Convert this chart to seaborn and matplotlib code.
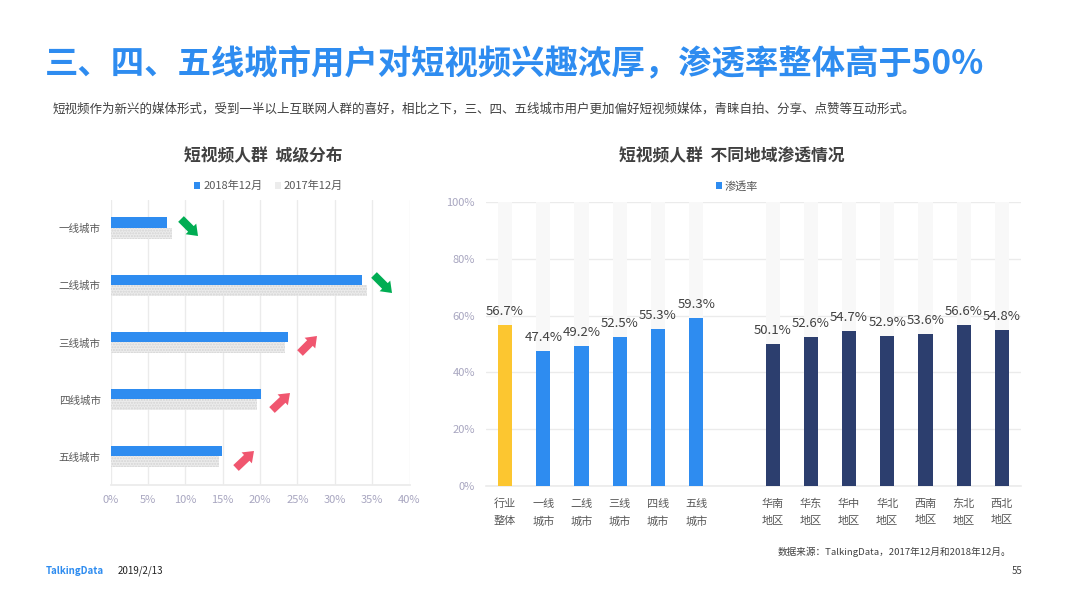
import numpy as np
import pandas as pd
import seaborn as sns
import matplotlib.pyplot as plt
from matplotlib.patches import FancyArrow, Patch

# left chart
cities = ['一线城市', '二线城市', '三线城市', '四线城市', '五线城市']
share_2018 = [7.6, 33.6, 23.7, 20.2, 14.9]
share_2017 = [8.2, 34.3, 23.4, 19.6, 14.5]
years = ['2018年12月', '2017年12月']
share_ticks = [0, 5, 10, 15, 20, 25, 30, 35, 40]

# right chart, the blank slot separates cities from regions
regions = ['行业\n整体', '一线\n城市', '二线\n城市', '三线\n城市', '四线\n城市', '五线\n城市', ' ',
           '华南\n地区', '华东\n地区', '华中\n地区', '华北\n地区', '西南\n地区', '东北\n地区', '西北\n地区']
rates = [56.7, 47.4, 49.2, 52.5, 55.3, 59.3, np.nan, 50.1, 52.6, 54.7, 52.9, 53.6, 56.6, 54.8]
groups = ['行业'] + ['城市'] * 6 + ['地区'] * 7
backdrop = [100] * 6 + [np.nan] + [100] * 7
rate_ticks = [0, 20, 40, 60, 80, 100]

W, H = 1066, 599
BLUE = '#2e8cf0'
NAVY = '#2c3e6e'
YELLOW = '#fcc630'
GREEN = '#00ad53'
RED = '#f0566f'
TICK = '#a8a6c0'
TEXT = '#595959'
GRID = '#ebebeb'

sns.set_theme(style='white')
plt.rcParams['font.family'] = ['Noto Sans CJK SC', 'DejaVu Sans']

fig = plt.figure(figsize=(W / 100, H / 100), dpi=100)


def px_axes(left, top, right, bottom):
    return fig.add_axes([left / W, 1 - bottom / H, (right - left) / W, (bottom - top) / H])


def px_text(x, y, s, **kw):
    kw.setdefault('va', 'center')
    fig.text(x / W, 1 - y / H, s, **kw)


# header and footer
px_text(45, 65, '三、四、五线城市用户对短视频兴趣浓厚，渗透率整体高于50%', color=BLUE, fontsize=24.05, fontweight='bold')
px_text(53, 109, '短视频作为新兴的媒体形式，受到一半以上互联网人群的喜好，相比之下，三、四、五线城市用户更加偏好短视频媒体，青睐自拍、分享、点赞等互动形式。',
        color='#404040', fontsize=9.03)
px_text(263, 156, '短视频人群  城级分布', color='#404040', fontsize=12.1, fontweight='bold', ha='center')
px_text(732, 156, '短视频人群  不同地域渗透情况', color='#404040', fontsize=12.1, fontweight='bold', ha='center')
px_text(1011, 552, '数据来源：TalkingData，2017年12月和2018年12月。', color='#404040', fontsize=6.9, ha='right')
px_text(46, 571, 'TalkingData', color=BLUE, fontsize=7, fontweight='bold')
px_text(118, 571, '2019/2/13', color='#222222', fontsize=7)
px_text(1022, 571, '55', color='#404040', fontsize=7, ha='right')

# left: city tier share
ax1 = px_axes(110.5, 199.5, 409.5, 485)
df1 = pd.DataFrame({
    'city': cities * 2,
    'share': share_2018 + share_2017,
    'year': [years[0]] * 5 + [years[1]] * 5,
})
sns.barplot(data=df1, x='share', y='city', hue='year', hue_order=years, order=cities, orient='h',
            palette=[BLUE, '#ececec'], width=0.37, gap=0, saturation=1, linewidth=0, ax=ax1, zorder=3)
for bar in ax1.containers[1]:
    bar.set_hatch('......')
    bar.set_edgecolor('#d4d4d4')
ax1.set_xlim(0, 40)
ax1.set_xticks(share_ticks)
ax1.set_xticklabels([f'{t}%' for t in share_ticks])
ax1.grid(axis='x', color=GRID, linewidth=1)
ax1.set_axisbelow(True)
ax1.set_xlabel('')
ax1.set_ylabel('')
ax1.tick_params(axis='x', colors=TICK, labelsize=8, length=0, pad=7)
ax1.tick_params(axis='y', colors=TEXT, labelsize=7.6, length=0, pad=7)
sns.despine(ax=ax1, left=True)
ax1.spines['bottom'].set_color(GRID)
handles, labels = ax1.get_legend_handles_labels()
ax1.legend(handles, labels, loc='center', bbox_to_anchor=(268.5 / W, 1 - 186 / H), bbox_transform=fig.transFigure,
           ncol=2, frameon=False, fontsize=8, labelcolor=TEXT, handlelength=0.55, handleheight=0.55,
           handletextpad=0.25, columnspacing=1.1)

# trend arrows, in pixels of the page
arrows = [(181, 219, 198, 236, GREEN), (374, 275, 392, 293, GREEN), (300, 353, 317, 336, RED),
          (272, 410, 290, 393, RED), (236, 468, 254, 451, RED)]
for x0, y0, x1, y1, col in arrows:
    fig.add_artist(FancyArrow(x0, H - y0, x1 - x0, y0 - y1, width=8, head_width=15, head_length=10,
                              length_includes_head=True, color=col, lw=0, transform=None))

# right: penetration
ax2 = px_axes(486, 202, 1021, 486)
df2 = pd.DataFrame({'region': regions, 'rate': rates, 'group': groups, 'backdrop': backdrop})
sns.barplot(data=df2, x='region', y='backdrop', order=regions, color='#f8f8f8', width=0.37, saturation=1,
            linewidth=0, ax=ax2, zorder=2)
n_back = len(ax2.containers)
sns.barplot(data=df2, x='region', y='rate', hue='group', order=regions, hue_order=['行业', '城市', '地区'],
            palette=[YELLOW, BLUE, NAVY], dodge=False, width=0.37, saturation=1, linewidth=0, legend=False,
            ax=ax2, zorder=3)
for cont in ax2.containers[n_back:]:
    ax2.bar_label(cont, fmt='{:.1f}%', fontsize=9.5, color='#404040', padding=5)
ax2.set_ylim(0, 100)
ax2.set_yticks(rate_ticks)
ax2.set_yticklabels([f'{t}%' for t in rate_ticks])
ax2.grid(axis='y', color=GRID, linewidth=1)
ax2.set_axisbelow(True)
ax2.set_xlabel('')
ax2.set_ylabel('')
ax2.tick_params(axis='y', colors=TICK, labelsize=8, length=0, pad=8)
ax2.tick_params(axis='x', colors=TEXT, labelsize=8, length=0, pad=9)
for lab in ax2.get_xticklabels():
    lab.set_linespacing(1.86)
sns.despine(ax=ax2, left=True)
ax2.spines['bottom'].set_color(GRID)
ax2.spines['bottom'].set_linewidth(1.2)
ax2.legend(handles=[Patch(facecolor=BLUE, linewidth=0, label='渗透率')], loc='center',
           bbox_to_anchor=(737 / W, 1 - 186 / H), bbox_transform=fig.transFigure, frameon=False, fontsize=8,
           labelcolor=TEXT, handlelength=0.55, handleheight=0.55, handletextpad=0.25)

fig.savefig('out.png', dpi=100)
